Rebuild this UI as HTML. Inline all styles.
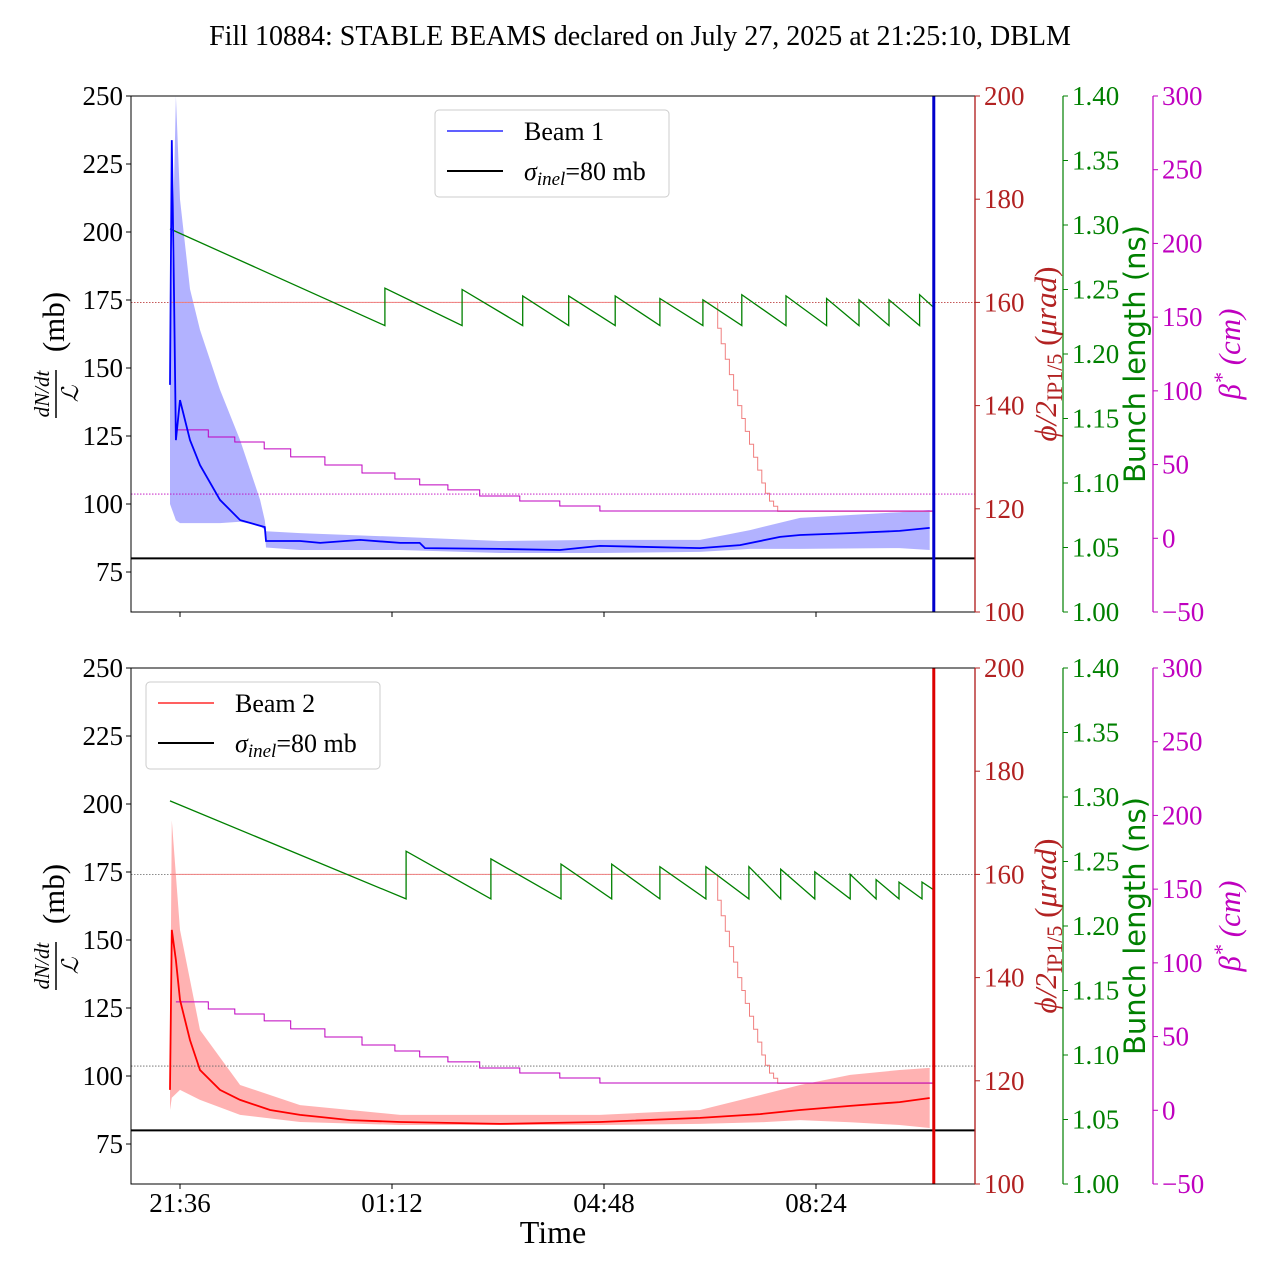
<!DOCTYPE html>
<html><head><meta charset="utf-8">
<style>
body{margin:0;background:#fff;}
svg{display:block;font-family:"Liberation Serif",serif;}
</style></head>
<body>
<svg id="chart" width="1280" height="1280" viewBox="0 0 1280 1280"></svg>
<script>
// ---- data (time in hours, 24+ = next day) ----
const xTickVals=[21.6,25.2,28.8,32.4];
const xTickLabels=["21:36","01:12","04:48","08:24"];
const leftTicks=[75,100,125,150,175,200,225,250];
const redTicks=[100,120,140,160,180,200];
const greenTicks=[1.00,1.05,1.10,1.15,1.20,1.25,1.30,1.35,1.40];
const magTicks=[-50,0,50,100,150,200,250,300];
const sigmaInel=80;
const stableEnd=34.40;
// Beam 1
const b1T=[21.43,21.46,21.5,21.53,21.6,21.77,21.94,22.28,22.62,23.04,23.06,23.64,23.98,24.66,25.34,25.67,25.76,27.03,28.05,28.73,30.43,31.11,31.79,32.13,32.98,33.82,34.33];
const b1V=[143.8,233.8,175,123.5,138.2,123.5,114.3,101.5,94.1,91.5,86.4,86.4,85.7,86.8,85.7,85.7,83.8,83.5,83.1,84.6,83.8,84.9,87.9,88.6,89.3,90.1,91.2];
const b1BandT=[21.43,21.53,21.6,21.77,21.94,22.28,22.62,22.96,23.04,23.06,23.64,25.34,27.03,28.73,30.43,31.28,32.13,33.82,34.33];
const b1Up=[150,250,212,179,164,142,123.5,101.5,94,90,89.3,87.9,86.4,86.8,86.8,90.4,94.9,97,97.8];
const b1Lo=[100,94,93,93,93,93,93.5,92,90.4,84,83.1,83.1,82,82,82.4,83.5,83.5,83.8,83.1];
// Beam 2
const b2T=[21.43,21.46,21.53,21.6,21.77,21.94,22.28,22.62,23.13,23.64,24.49,25.34,27.03,28.73,30.43,31.45,32.13,32.98,33.82,34.33];
const b2V=[94.9,153.7,142.6,128,113.2,102.2,94.9,91.2,87.5,85.7,83.8,83.1,82.4,83.1,84.6,86,87.5,89,90.4,91.9];
const b2BandT=[21.43,21.46,21.6,21.94,22.62,23.64,25.34,28.73,30.43,31.45,32.13,32.98,33.82,34.33];
const b2Up=[110,194,153.7,116.9,96.7,89.3,85.7,85.7,87.5,93,96.7,100.4,102.2,103];
const b2Lo=[87.5,92,94.9,91.2,85.7,83.1,82,82,82.4,83,83.8,83,82,80.9];
// bunch length sawtooth
const bl1Refill=[25.08,26.39,27.42,28.20,28.99,29.75,30.48,31.14,31.89,32.58,33.13,33.64,34.16];
const bl1Peak=[1.251,1.250,1.245,1.245,1.245,1.243,1.242,1.246,1.245,1.243,1.242,1.242,1.246];
const bl1Trough=[1.222,1.222,1.222,1.222,1.222,1.222,1.222,1.222,1.222,1.222,1.222,1.222,1.222];
const bl1Start=1.297, bl1End=1.236;
const bl2Refill=[25.44,26.88,28.07,28.93,29.75,30.53,31.26,31.80,32.38,32.98,33.42,33.81,34.20];
const bl2Peak=[1.258,1.252,1.248,1.248,1.246,1.246,1.246,1.244,1.242,1.240,1.236,1.234,1.234];
const bl2Trough=[1.221,1.221,1.221,1.221,1.221,1.221,1.221,1.221,1.221,1.221,1.221,1.221,1.221];
const bl2Start=1.297, bl2End=1.228;
// beta* steps (cm)
const betaT=[21.53,22.08,22.53,23.03,23.48,24.06,24.69,25.25,25.67,26.15,26.69,27.37,28.05,28.73];
const betaV=[73.5,68.7,65.3,60.6,55.2,49.7,44.3,40.2,36.2,32.8,28.7,25.3,21.9,18.5];
// crossing angle steps (urad)
const angT=[21.43,30.73,30.79,30.86,30.93,31.0,31.07,31.14,31.20,31.27,31.34,31.41,31.48,31.54,31.61,31.68,31.75,31.82];
const angV=[160,155,152,149,146,143,140,137.5,135,132.5,130,127.5,125,123,121.5,120.5,119.5,119.5];
const angRef=160, betaRef=30;

const NS="http://www.w3.org/2000/svg";
const svg=document.getElementById('chart');
function mk(tag,attrs,parent,txt){const e=document.createElementNS(NS,tag);for(const k in attrs)e.setAttribute(k,attrs[k]);if(txt!==undefined)e.textContent=txt;(parent||svg).appendChild(e);return e;}
const X0=131,X1=975,T0=20.768,T1=35.10;
const xs=t=>X0+(t-T0)/(T1-T0)*(X1-X0);
const RED="#b22222",GRN="#008000",MAG="#bf00bf";
const FS=27;

const title=mk('text',{x:640,y:45,'text-anchor':'middle','font-size':28},svg,'Fill 10884: STABLE BEAMS declared on July 27, 2025 at 21:25:10, DBLM');



function panel(top,beam){
  const bot=top+516;
  const g=mk('g',{});
  
  
  const yL=v=>top+(250-v)/(250-60.3)*516;
  const yR=v=>bot-(v-100)/100*516;
  const yG=v=>bot-(v-1.0)/0.4*516;
  const yM=v=>bot-(v+50)/350*516;
  const clip='clip'+beam;
  const cp=mk('clipPath',{id:clip},g);mk('rect',{x:X0,y:top,width:X1-X0,height:516},cp);
  const pg=mk('g',{'clip-path':'url(#'+clip+')'},g);
  const col=beam==1?'#0000ff':'#ff0000';
  const BT=beam==1?b1BandT:b2BandT,BU=beam==1?b1Up:b2Up,BL=beam==1?b1Lo:b2Lo;
  let d='M'+BT.map((t,i)=>xs(t).toFixed(1)+','+yL(BU[i]).toFixed(1)).join('L');
  for(let i=BT.length-1;i>=0;i--)d+='L'+xs(BT[i]).toFixed(1)+','+yL(BL[i]).toFixed(1);
  const band=mk('path',{d:d+'Z',fill:col,'fill-opacity':0.3,stroke:'none'},pg);
  
  
  const dc1=beam==1?RED:'#666', dc2=beam==1?MAG:'#666';
  const r1=mk('line',{x1:X0,x2:X1,y1:yR(angRef),y2:yR(angRef),stroke:dc1,'stroke-width':0.8,'stroke-dasharray':'1.5,1.5'},pg);
  
  
  const r2=mk('line',{x1:X0,x2:X1,y1:yM(betaRef),y2:yM(betaRef),stroke:dc2,'stroke-width':0.8,'stroke-dasharray':'1.5,1.5'},pg);
  
  
  let pa='M'+xs(angT[0])+','+yR(angV[0]);
  for(let i=1;i<angT.length;i++)pa+='H'+xs(angT[i]).toFixed(1)+'V'+yR(angV[i]).toFixed(1);
  pa+='H'+xs(stableEnd);
  const ang=mk('path',{d:pa,fill:'none',stroke:'#f08080','stroke-width':1},pg);
  
  
  let pb='M'+xs(betaT[0])+','+yM(betaV[0]);
  for(let i=1;i<betaT.length;i++)pb+='H'+xs(betaT[i]).toFixed(1)+'V'+yM(betaV[i]).toFixed(1);
  pb+='H'+xs(stableEnd);
  const bet=mk('path',{d:pb,fill:'none',stroke:MAG,'stroke-width':1},pg);
  
  
  const RF=beam==1?bl1Refill:bl2Refill,PK=beam==1?bl1Peak:bl2Peak,TR=beam==1?bl1Trough:bl2Trough;
  let pgr='M'+xs(21.43)+','+yG(beam==1?bl1Start:bl2Start);
  for(let i=0;i<RF.length;i++)pgr+='L'+xs(RF[i]).toFixed(1)+','+yG(TR[i]).toFixed(1)+'L'+xs(RF[i]).toFixed(1)+','+yG(PK[i]).toFixed(1);
  pgr+='L'+xs(stableEnd)+','+yG(beam==1?bl1End:bl2End);
  const bl=mk('path',{d:pgr,fill:'none',stroke:GRN,'stroke-width':1.3},pg);
  
  
  const MT=beam==1?b1T:b2T,MV=beam==1?b1V:b2V;
  const ml=mk('path',{d:'M'+MT.map((t,i)=>xs(t).toFixed(1)+','+yL(MV[i]).toFixed(1)).join('L'),fill:'none',stroke:col,'stroke-width':1.8},pg);
  
  
  const sl=mk('line',{x1:X0,x2:X1,y1:yL(sigmaInel),y2:yL(sigmaInel),stroke:'#000','stroke-width':2},pg);
  
  
  const vl=mk('line',{x1:xs(stableEnd),x2:xs(stableEnd),y1:top,y2:bot,stroke:beam==1?'#0000cc':'#dd0000','stroke-width':3},pg);
  
  
  mk('rect',{x:X0,y:top,width:X1-X0,height:516,fill:'none',stroke:'#000','stroke-width':1},g);
  mk('line',{x1:X1,x2:X1,y1:top,y2:bot,stroke:RED,'stroke-width':1.2},g);
  leftTicks.forEach(v=>{const y=yL(v);mk('line',{x1:X0-5,x2:X0,y1:y,y2:y,stroke:'#000'},g);
    const t=mk('text',{x:X0-8,y:y+9,'text-anchor':'end','font-size':FS},g,String(v));
    });
  xTickVals.forEach((v,i)=>{const x=xs(v);mk('line',{x1:x,x2:x,y1:bot,y2:bot+5,stroke:'#000'},g);
    if(beam==2){const t=mk('text',{x:x,y:bot+28,'text-anchor':'middle','font-size':FS},g,xTickLabels[i]);
    }});
  function raxis(x,ticks,f,color,fmt,name){
    mk('line',{x1:x,x2:x,y1:top,y2:bot,stroke:color,'stroke-width':1.2},g);
    ticks.forEach(v=>{const y=f(v);mk('line',{x1:x,x2:x+5,y1:y,y2:y,stroke:color},g);
      const t=mk('text',{x:x+9,y:y+9,'font-size':FS,fill:color},g,fmt(v));
      });
  }
  raxis(975,redTicks,yR,RED,v=>String(v),'angle');
  raxis(1063,greenTicks,yG,GRN,v=>v.toFixed(2),'bunch-length');
  raxis(1153,magTicks,yM,MAG,v=>v<0?'\u2212'+(-v):String(v),'beta');
  const cy=top+258;
  const ll=mk('g',{transform:'translate(58,'+cy+') rotate(-90)'},g);
  
  mk('text',{x:-40,y:-9,'text-anchor':'middle','font-size':21,'font-style':'italic'},ll,'dN/dt');
  mk('line',{x1:-64,x2:-16,y1:-2,y2:-2,stroke:'#000','stroke-width':1.5},ll);
  mk('text',{x:-40,y:20,'text-anchor':'middle','font-size':23,'font-style':'italic'},ll,'\u2112');
  mk('text',{x:32,y:6,'text-anchor':'middle','font-size':31},ll,'(mb)');
  const rl=mk('text',{transform:'translate(1056,'+cy+') rotate(-90)','text-anchor':'middle','font-size':31,fill:RED},g);
  
  mk('tspan',{'font-style':'italic'},rl,'\u03d5/2');mk('tspan',{'font-size':22,dy:6},rl,'IP1/5');mk('tspan',{dy:-6},rl,' (');mk('tspan',{'font-style':'italic'},rl,'\u03bcrad');mk('tspan',{},rl,')');
  const gl=mk('text',{transform:'translate(1145,'+cy+') rotate(-90)','text-anchor':'middle','font-size':29,fill:GRN,'font-family':'DejaVu Sans, sans-serif'},g,'Bunch length (ns)');
  
  const bl2=mk('text',{transform:'translate(1240,'+cy+') rotate(-90)','text-anchor':'middle','font-size':31,fill:MAG,'font-style':'italic'},g);
  
  mk('tspan',{},bl2,'\u03b2');mk('tspan',{'font-size':22,dy:-11},bl2,'*');mk('tspan',{dy:11},bl2,' (cm)');
  const lx=beam==1?435:146, ly=top+14;
  const lg=mk('g',{},g);
  
  mk('rect',{x:lx,y:ly,width:234,height:87,rx:4,fill:'#fff',stroke:'#ccc'},lg);
  mk('line',{x1:lx+12,x2:lx+68,y1:ly+21,y2:ly+21,stroke:col,'stroke-width':1.2},lg);
  const e1=mk('text',{x:lx+89,y:ly+30,'font-size':26},lg,'Beam '+beam);
  
  mk('line',{x1:lx+12,x2:lx+68,y1:ly+61,y2:ly+61,stroke:'#000','stroke-width':2},lg);
  const e2=mk('text',{x:lx+89,y:ly+70,'font-size':26},lg);
  
  mk('tspan',{'font-style':'italic'},e2,'\u03c3');mk('tspan',{'font-size':19,dy:5,'font-style':'italic'},e2,'inel');mk('tspan',{dy:-5},e2,'=80 mb');
}
panel(96,1);
panel(668,2);
const xl=mk('text',{x:553,y:1243,'text-anchor':'middle','font-size':32},svg,'Time');


</script>
</body></html>
